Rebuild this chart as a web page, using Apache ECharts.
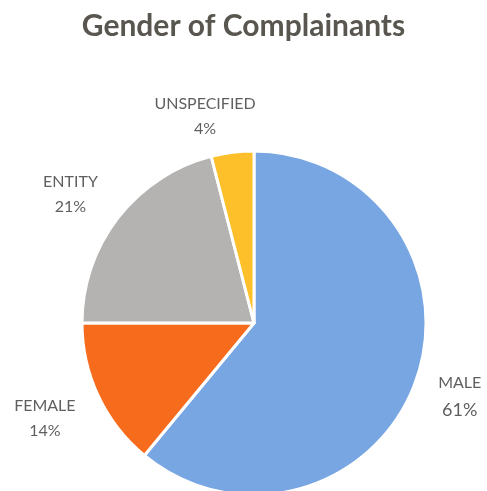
<!DOCTYPE html>
<html>
<head>
<meta charset="utf-8">
<script src="https://cdn.jsdelivr.net/npm/echarts@6/dist/echarts.min.js"></script>
<style>
  html, body { margin: 0; padding: 0; background: #fff; }
  #chart { width: 487px; height: 491px; }
</style>
</head>
<body>
<div id="chart"></div>
<script>
// 数据
const categories = ['MALE', 'FEMALE', 'ENTITY', 'UNSPECIFIED']
const shares = [61, 14, 21, 4]
const colors = ['#77a6e2', '#f76b1c', '#b4b3b1', '#fdc02b']

const center = [254, 323]
const radius = 172
const labelGap = 24
// 标签微调（像素）
const labelShift = [[1, 1], [-4, 3], [-7, 4], [-18, 8]]

const chart = echarts.init(document.getElementById('chart'))

// 扇区中线角度（从正上方顺时针）
const total = shares.reduce((a, b) => a + b, 0)
const midAngles = []
let acc = 0
shares.forEach(v => {
  midAngles.push((acc + v / 2) / total * Math.PI * 2)
  acc += v
})

chart.setOption({
  title: {
    text: 'Gender of Complainants',
    left: 'center',
    top: 6,
    textStyle: {
      fontFamily: 'Lato',
      fontWeight: 'bold',
      fontSize: 30,
      color: '#58564f'
    }
  },
  series: [{
    type: 'pie',
    center: center,
    radius: radius,
    startAngle: 90,
    clockwise: true,
    silent: true,
    itemStyle: {
      borderColor: '#fff',
      borderWidth: 3
    },
    label: {
      show: true,
      position: 'outside',
      overflow: 'none',
      edgeDistance: 0,
      fontFamily: 'Lato',
      color: '#5f5f5f',
      formatter: p => '{n|' + p.name + '}\n{v|' + p.value + '%}',
      rich: {
        n: { fontFamily: 'Lato', fontSize: 16, color: '#5f5f5f', lineHeight: 25, align: 'center' },
        v: { fontFamily: 'Lato', fontSize: 16, color: '#5f5f5f', lineHeight: 25, align: 'center' },
        vb: { fontFamily: 'Lato', fontSize: 18, color: '#5f5f5f', lineHeight: 30, align: 'center' }
      }
    },
    labelLine: { show: false },
    labelLayout: params => {
      const i = params.dataIndex
      const a = midAngles[i]
      const ux = Math.sin(a)
      const uy = -Math.cos(a)
      const w = params.labelRect.width
      const h = params.labelRect.height
      return {
        x: center[0] + ux * (radius + labelGap) + ux * w / 2 + labelShift[i][0],
        y: center[1] + uy * (radius + labelGap) + uy * h / 2 + labelShift[i][1],
        align: 'center',
        verticalAlign: 'middle'
      }
    },
    data: categories.map((name, i) => ({
      name: name,
      value: shares[i],
      itemStyle: { color: colors[i] },
      label: i === 0 ? { formatter: p => '{n|' + p.name + '}\n{vb|' + p.value + '%}' } : undefined
    }))
  }]
})
</script>
</body>
</html>
